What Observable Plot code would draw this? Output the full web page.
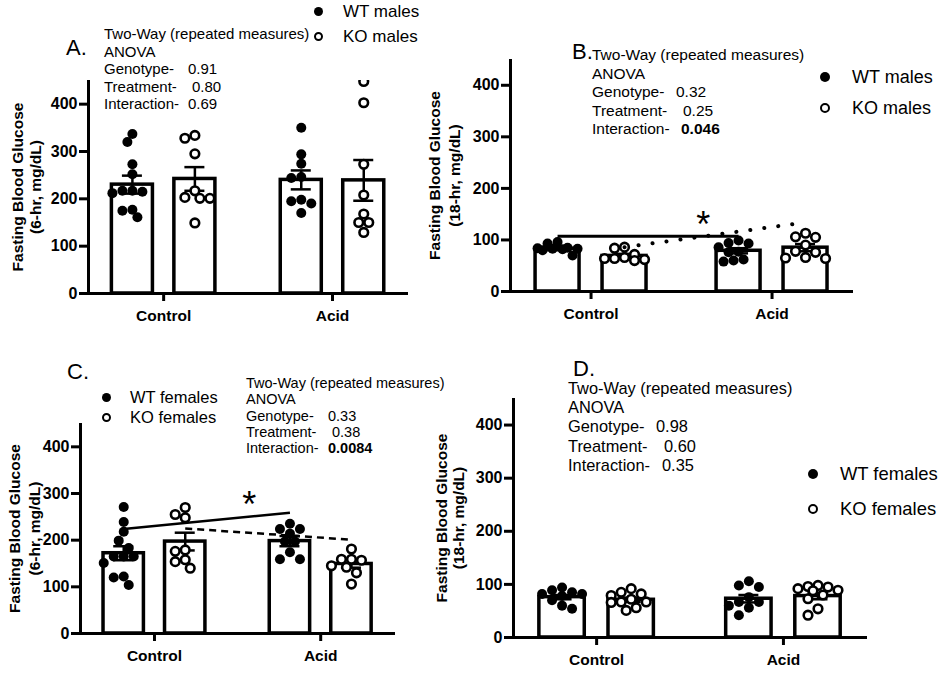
<!DOCTYPE html>
<html><head><meta charset="utf-8">
<script src="https://cdn.jsdelivr.net/npm/d3@7"></script>
<script src="https://cdn.jsdelivr.net/npm/@observablehq/plot@0.6"></script>
<style>
body{margin:0;background:#fff;}
#root{position:relative;width:952px;height:674px;overflow:hidden;font-family:"Liberation Sans",Arial,Helvetica,sans-serif;color:#000;}
.panel{position:absolute;}
.txt{position:absolute;white-space:pre;line-height:1;transform:translateY(-50%);}
.num{position:absolute;top:0;white-space:pre;}
.ldot{position:absolute;border-radius:50%;box-sizing:border-box;}
</style></head><body><div id="root"></div>
<script>
// ---------- data ----------
const treatments = ["Control", "Acid"];
const genotypes = ["WT", "KO"];
const yTicks = [0, 100, 200, 300, 400];
const yLabel = "Fasting Blood Glucose";
const statHeader = ["Two-Way (repeated measures)", "ANOVA"];
const statLabels = ["Genotype-", "Treatment-", "Interaction-"];

// Panel A: 6-hr fast, males  (order: Control WT, Control KO, Acid WT, Acid KO)
const aControlWT = [337, 320, 273, 252, 217, 217, 215, 212, 177, 175, 161];
const aControlKO = [334, 328, 295, 217, 203, 201, 201, 149];
const aAcidWT = [350, 294, 274, 246, 244, 198, 195, 190, 170];
const aAcidKO = [448, 403, 273, 208, 168, 150, 150, 129];
const aMeans = [230, 242, 240, 239];
const aSems = [19, 25, 20, 43];
const aPvals = ["0.91", "0.80", "0.69"];

// Panel B: 18-hr fast, males
const bControlWT = [96, 93, 85, 84, 83, 83, 82, 80, 70];
const bControlKO = [86, 84, 72, 66, 64, 64, 62, 60];
const bAcidWT = [99, 94, 93, 86, 77, 76, 62, 60, 58];
const bAcidKO = [113, 106, 105, 90, 78, 76, 66, 65, 64];
const bMeans = [83, 69, 79, 85];
const bSems = [3, 4, 5, 7];
const bPvals = ["0.32", "0.25", "0.046"];
const bLineWT = [107, 107];
const bLineKO = [86, 134];
const bStar = [1.62, 148];

// Panel C: 6-hr fast, females
const cControlWT = [271, 239, 218, 199, 183, 165, 165, 165, 151, 122, 120, 104];
const cControlKO = [270, 255, 248, 179, 176, 158, 154, 140];
const cAcidWT = [235, 224, 224, 214, 197, 197, 174, 159, 159];
const cAcidKO = [181, 159, 159, 157, 145, 142, 130, 106];
const cMeans = [172, 197, 198, 149];
const cSems = [15, 19, 11, 8];
const cPvals = ["0.33", "0.38", "0.0084"];
const cLineWT = [224, 259];
const cLineKO = [225, 201];
const cStar = [1.57, 296];

// Panel D: 18-hr fast, females
const dControlWT = [94, 89, 85, 82, 82, 78, 70, 60, 54];
const dControlKO = [92, 85, 82, 79, 72, 67, 67, 66, 56, 51];
const dAcidWT = [106, 98, 95, 76, 67, 67, 60, 56, 42];
const dAcidKO = [98, 96, 95, 92, 89, 88, 80, 73, 54, 42];
const dMeans = [76, 71, 73, 78];
const dSems = [4, 4, 7, 6];
const dPvals = ["0.98", "0.60", "0.35"];

// ---------- layout ----------
const FONT = '"Liberation Sans", Arial, Helvetica, sans-serif';
const xDomain = [0.555, 2.45];
const yMax = 450;
const treatPos = [1, 2];
const genoOffset = {WT: -0.185, KO: 0.185};
const barW = 0.243;

function swarm(vals, pxY, step = 5, d = 9, maxOff = 20) {
  const idx = vals.map((v, i) => i).sort((a, b) => vals[b] - vals[a]);
  const placed = [], offs = [];
  const kMax = 2 * Math.floor(maxOff / step);
  for (const i of idx) {
    const v = vals[i];
    let best = 0, bestScore = -1;
    for (let k = 0; k <= kMax; k++) {
      const o = (k % 2 ? -1 : 1) * Math.ceil(k / 2) * step;
      let mind = Infinity;
      for (const p of placed) mind = Math.min(mind, Math.hypot(o - p.o, (v - p.v) * pxY));
      if (mind >= d) { best = o; break; }
      if (mind > bestScore) { bestScore = mind; best = o; }
    }
    placed.push({o: best, v});
    offs[i] = best;
  }
  return offs;
}

const root = document.getElementById("root");

function addText(str, x, y, size, weight) {
  const el = document.createElement("div");
  el.className = "txt";
  el.textContent = str;
  el.style.left = x + "px";
  el.style.top = y + "px";
  el.style.fontSize = size + "px";
  if (weight) el.style.fontWeight = weight;
  root.appendChild(el);
  return el;
}

function legendDot(cx, cy, filled, r) {
  const el = document.createElement("div");
  el.className = "ldot";
  const s = 2 * r;
  el.style.width = s + "px"; el.style.height = s + "px";
  el.style.left = (cx - r) + "px"; el.style.top = (cy - r) + "px";
  if (filled) el.style.background = "#000";
  else { el.style.background = "#fff"; el.style.border = "2.5px solid #000"; }
  root.appendChild(el);
}

function buildPanel(P) {
  const pxX = (P.width - P.ml - P.mr) / (xDomain[1] - xDomain[0]);
  const pxY = (P.height - P.mt - P.mb) / yMax;
  const bars = [], pts = [];
  P.series.forEach((vals, i) => {
    const t = Math.floor(i / 2), g = genotypes[i % 2];
    const cx = treatPos[t] + genoOffset[g];
    bars.push({x: cx, g, mean: P.means[i], sem: P.sems[i]});
    const offs = swarm(vals, pxY);
    vals.forEach((v, j) => pts.push({x: cx + offs[j] / pxX, y: v, g}));
  });
  const cw = 10 / pxX;
  const marks = [
    Plot.rect(bars, {x1: d => d.x - barW / 2, x2: d => d.x + barW / 2, y1: 0, y2: "mean",
      fill: "white", stroke: "black", strokeWidth: 3.5}),
    Plot.ruleX(bars, {x: "x", y1: d => d.mean - d.sem, y2: d => d.mean + d.sem, stroke: "black", strokeWidth: 2.5}),
    Plot.ruleY(bars, {y: d => d.mean + d.sem, x1: d => d.x - cw, x2: d => d.x + cw, stroke: "black", strokeWidth: 2.5}),
    Plot.ruleY(bars, {y: d => d.mean - d.sem, x1: d => d.x - cw, x2: d => d.x + cw, stroke: "black", strokeWidth: 2.5}),
    Plot.dot(pts.filter(d => d.g === "WT"), {x: "x", y: "y", r: 5, fill: "black", clip: true}),
    Plot.dot(pts.filter(d => d.g === "KO"), {x: "x", y: "y", r: 4.3, fill: "white", stroke: "black", strokeWidth: 2.6, clip: true})
  ];
  (P.lines || []).forEach(L => {
    const data = [{x: bars[L.from].x, y: L.y[0]}, {x: bars[L.to].x, y: L.y[1]}];
    marks.push(Plot.line(data, {x: "x", y: "y", stroke: "black", strokeWidth: L.w,
      strokeDasharray: L.dash, strokeLinecap: L.cap || "butt"}));
  });
  if (P.star) {
    marks.push(Plot.text([{x: P.star[0], y: P.star[1]}], {x: "x", y: "y", text: () => "*",
      fontSize: 36, fontWeight: "normal", dy: 10}));
  }
  marks.push(
    Plot.ruleX([xDomain[0]], {stroke: "black", strokeWidth: 3}),
    Plot.ruleY([0], {stroke: "black", strokeWidth: 3}),
    Plot.axisY({ticks: yTicks, tickSize: 9, tickPadding: 2, strokeWidth: 3, label: null,
      fontSize: 16, fontWeight: "bold"}),
    Plot.axisX({ticks: treatPos, tickFormat: d => treatments[d - 1], tickSize: 8, tickPadding: 8,
      strokeWidth: 3, label: null, fontSize: 15.5, fontWeight: "bold"}),
    Plot.text([yLabel], {text: d => d, frameAnchor: "left", textAnchor: "middle", lineAnchor: "middle",
      rotate: -90, dx: P.dx1, fontSize: 15.5, fontWeight: "bold"}),
    Plot.text([P.ylab2], {text: d => d, frameAnchor: "left", textAnchor: "middle", lineAnchor: "middle",
      rotate: -90, dx: P.dx2, fontSize: 15.5, fontWeight: "bold"})
  );
  const svg = Plot.plot({
    width: P.width, height: P.height,
    marginLeft: P.ml, marginRight: P.mr, marginTop: P.mt, marginBottom: P.mb,
    x: {domain: xDomain, axis: null},
    y: {domain: [0, yMax], axis: null},
    style: {fontFamily: FONT, fontSize: "15px", fontWeight: "bold", background: "transparent",
      overflow: "visible", maxWidth: "none", color: "black"},
    marks
  });
  const div = document.createElement("div");
  div.className = "panel";
  div.style.left = P.left + "px"; div.style.top = P.top + "px";
  div.style.width = P.width + "px"; div.style.height = P.height + "px";
  div.appendChild(svg);
  root.appendChild(div);
}

function buildOverlay(O) {
  addText(O.letter, O.lx, O.ly, 22);
  const S = O.stats;
  statHeader.forEach((s, i) => addText(s, S.x, S.y + i * S.dy, S.size));
  statLabels.forEach((s, i) => {
    const el = addText(s, S.x, S.y + (i + 2) * S.dy, S.size);
    const n = document.createElement("span");
    n.className = "num";
    n.textContent = O.pvals[i];
    n.style.left = S.numX[i] + "px";
    if (parseFloat(O.pvals[i]) < 0.05) n.style.fontWeight = "bold";
    el.appendChild(n);
  });
  const L = O.legend;
  O.legendLabels.forEach((s, i) => {
    legendDot(L.x, L.y[i], i === 0, L.r);
    addText(s, L.tx, L.y[i], L.size);
  });
}

buildPanel({left: 0, top: 0, width: 476, height: 330, ml: 88, mr: 68, mt: 80, mb: 37,
  series: [aControlWT, aControlKO, aAcidWT, aAcidKO], means: aMeans, sems: aSems,
  ylab2: "(6-hr, mg/dL)", dx1: -70, dx2: -52});
buildPanel({left: 420, top: 0, width: 532, height: 330, ml: 90, mr: 99, mt: 59, mb: 39,
  series: [bControlWT, bControlKO, bAcidWT, bAcidKO], means: bMeans, sems: bSems,
  ylab2: "(18-hr, mg/dL)", dx1: -75, dx2: -55,
  lines: [{from: 0, to: 2, y: bLineWT, w: 3, dash: null},
          {from: 1, to: 3, y: bLineKO, w: 4, dash: "0.1,14", cap: "round"}],
  star: bStar});
buildPanel({left: 0, top: 330, width: 420, height: 344, ml: 80, mr: 25, mt: 93, mb: 41,
  series: [cControlWT, cControlKO, cAcidWT, cAcidKO], means: cMeans, sems: cSems,
  ylab2: "(6-hr, mg/dL)", dx1: -65, dx2: -45,
  lines: [{from: 0, to: 2, y: cLineWT, w: 2.5, dash: null},
          {from: 1, to: 3, y: cLineKO, w: 2.5, dash: "7,5"}],
  star: cStar});
buildPanel({left: 420, top: 330, width: 532, height: 344, ml: 93, mr: 85, mt: 68, mb: 37,
  series: [dControlWT, dControlKO, dAcidWT, dAcidKO], means: dMeans, sems: dSems,
  ylab2: "(18-hr, mg/dL)", dx1: -71, dx2: -54});

buildOverlay({letter: "A.", lx: 66, ly: 48, pvals: aPvals,
  stats: {x: 104, y: 33, dy: 17.5, size: 15, numX: [84, 88, 84]},
  legendLabels: ["WT males", "KO males"], legend: {x: 318, y: [11, 36], tx: 343, size: 17, r: 4.5}});
buildOverlay({letter: "B.", lx: 572, ly: 52, pvals: bPvals,
  stats: {x: 592, y: 55, dy: 18.5, size: 15.5, numX: [84, 91, 89]},
  legendLabels: ["WT males", "KO males"], legend: {x: 825, y: [77, 108], tx: 852, size: 18, r: 5}});
buildOverlay({letter: "C.", lx: 67, ly: 372, pvals: cPvals,
  stats: {x: 246, y: 383, dy: 16.3, size: 14.5, numX: [82, 86, 82]},
  legendLabels: ["WT females", "KO females"], legend: {x: 106, y: [397, 417], tx: 130, size: 16.5, r: 4.5}});
buildOverlay({letter: "D.", lx: 573, ly: 369, pvals: dPvals,
  stats: {x: 568, y: 388, dy: 19.2, size: 16.4, numX: [88, 96, 94]},
  legendLabels: ["WT females", "KO females"], legend: {x: 813, y: [474, 509], tx: 840, size: 18.4, r: 5}});
</script></body></html>
